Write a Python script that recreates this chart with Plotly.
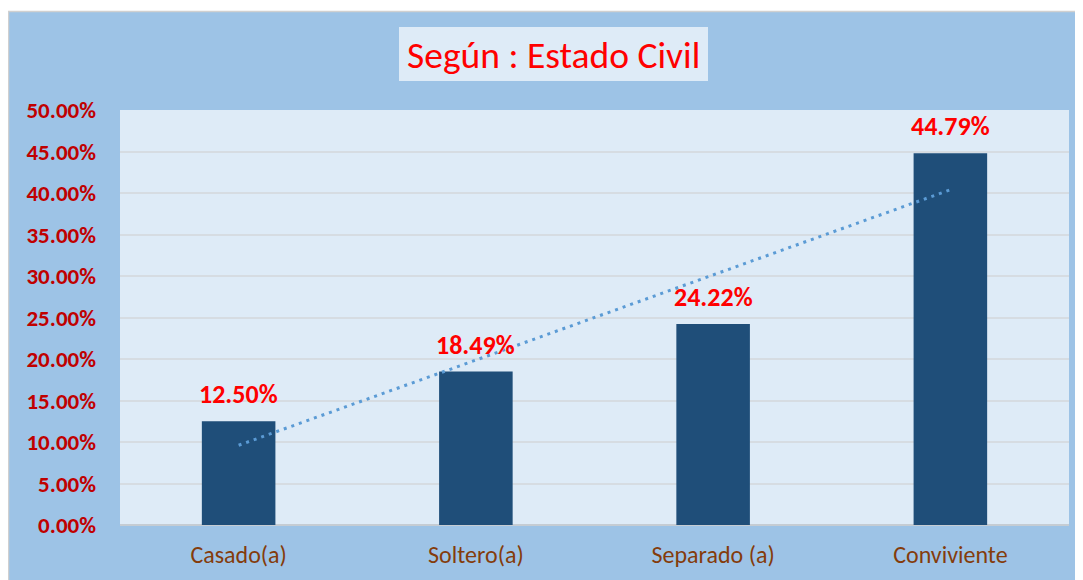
import plotly.graph_objects as go
import numpy as np

categories = ["Casado(a)", "Soltero(a)", "Separado (a)", "Conviviente"]
values = [0.1250, 0.1849, 0.2422, 0.4479]
y_ticks = [0.0, 0.05, 0.10, 0.15, 0.20, 0.25, 0.30, 0.35, 0.40, 0.45, 0.50]
title_text = "Según : Estado Civil"

# the page places the figure at (8, 8) because of the default body margin
OX, OY = 8, 8
W, H = 1075, 572
# plot area in page pixels: x 120..1069, y 110..525
L, R, T, B = 120 - OX, W - (1069 - OX), 110 - OY, H - (525 - OY)
PW, PH = W - L - R, H - T - B

def px(x):  # page x -> paper fraction
    return (x - OX - L) / PW

def py(y):  # page y -> paper fraction
    return (H - B - (y - OY)) / PH

FONT = "Calibri, Carlito, 'Open Sans', sans-serif"

# linear trendline (least squares over category index)
idx = np.arange(len(values))
slope, intercept = np.polyfit(idx, values, 1)
trend = slope * idx + intercept

fig = go.Figure()
fig.add_trace(go.Bar(
    x=categories, y=values, width=0.31,
    marker=dict(color="#1F4E79", line=dict(color="#1F4E79", width=0)),
    hoverinfo="skip", showlegend=False,
))
fig.add_trace(go.Scatter(
    x=categories, y=trend, mode="lines",
    line=dict(color="#5B9BD5", width=3, dash="3px,5px"),
    hoverinfo="skip", showlegend=False,
))

annotations = []
for c, v in zip(categories, values):
    annotations.append(dict(
        x=c, y=v, xref="x", yref="y", text=f"{v:.2%}", showarrow=False,
        yanchor="bottom", yshift=9,
        font=dict(family=FONT, size=26, color="#FF0000", weight="bold"),
    ))
annotations.append(dict(
    x=px(553.5), y=py(55), xref="paper", yref="paper", text=title_text,
    showarrow=False, xanchor="center", yanchor="middle",
    font=dict(family=FONT, size=37.5, color="#FF0000"),
))

shapes = [
    # white strip at top of the frame
    dict(type="rect", xref="paper", yref="paper", x0=px(0), x1=px(W + 20), y0=py(11), y1=py(0),
         fillcolor="white", line=dict(width=0), layer="below"),
    dict(type="line", xref="paper", yref="paper", x0=px(7), x1=px(W + 20), y0=py(11.5), y1=py(11.5),
         line=dict(color="#D0D0D0", width=1.5), layer="below"),
    dict(type="line", xref="paper", yref="paper", x0=px(8.5), x1=px(8.5), y0=py(H + 20), y1=py(11),
         line=dict(color="#D0D0D0", width=1.5), layer="below"),
    dict(type="line", xref="paper", yref="paper", x0=px(1082), x1=px(1082), y0=py(H + 20), y1=py(11),
         line=dict(color="#B8CCE0", width=1), layer="below"),
    # title box
    dict(type="rect", xref="paper", yref="paper", x0=px(399), x1=px(708), y0=py(81), y1=py(27),
         fillcolor="#DEEBF7", line=dict(width=0), layer="below"),
]

fig.update_layout(
    width=W, height=H,
    margin=dict(l=L, r=R, t=T, b=B, pad=0),
    paper_bgcolor="#9DC3E6",
    plot_bgcolor="#DEEBF7",
    annotations=annotations,
    shapes=shapes,
    xaxis=dict(
        type="category", range=[-0.5, 3.5], showgrid=False, zeroline=False,
        showline=False, ticks="",
        tickfont=dict(family=FONT, size=24, color="#843C0C"),
        ticklabelstandoff=13,
        fixedrange=True,
    ),
    yaxis=dict(
        range=[0, 0.5], tickvals=y_ticks, tickformat=".2%",
        showgrid=True, gridcolor="#D6DCE2", gridwidth=2,
        zeroline=True, zerolinecolor="#C5CCD3", zerolinewidth=2,
        showline=False, ticks="",
        tickfont=dict(family=FONT, size=23, color="#C00000", weight="bold"),
        ticklabelstandoff=23,
        fixedrange=True,
    ),
)

fig.write_html("out.html", config={"displayModeBar": False})
